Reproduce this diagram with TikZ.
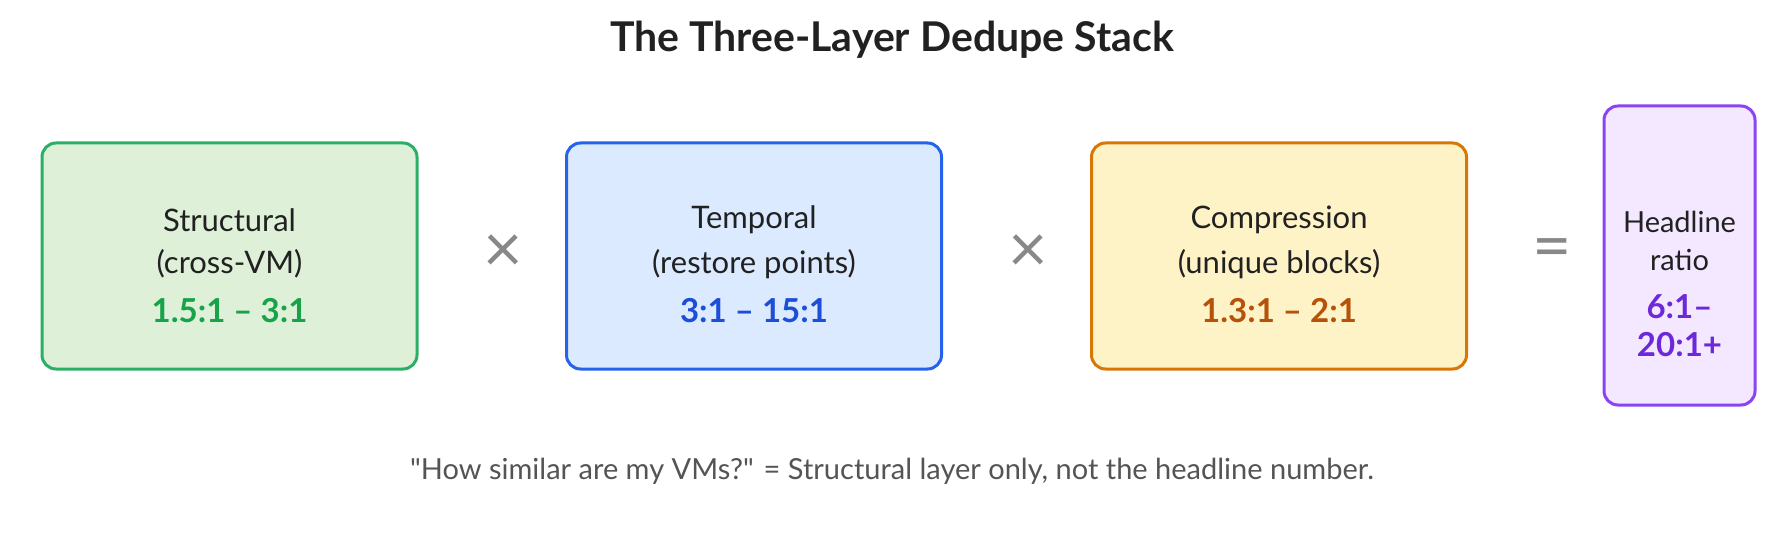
\documentclass[tikz,border=0pt]{standalone}
\usepackage{fontspec}
\setmainfont{Lato}
\usepackage{tikz}

\definecolor{grnline}{HTML}{2BAE66}
\definecolor{grnfill}{HTML}{DFF0D8}
\definecolor{grntext}{HTML}{16A34A}
\definecolor{bluline}{HTML}{2563EB}
\definecolor{blufill}{HTML}{DBEAFE}
\definecolor{blutext}{HTML}{1D4ED8}
\definecolor{orgline}{HTML}{D97706}
\definecolor{orgfill}{HTML}{FEF3C7}
\definecolor{orgtext}{HTML}{B45309}
\definecolor{purline}{HTML}{8B45F0}
\definecolor{purfill}{HTML}{F3E8FF}
\definecolor{purtext}{HTML}{6D28D9}
\definecolor{symgray}{HTML}{888888}

\begin{document}
\begin{tikzpicture}[x=1pt,y=-1pt,
		layerbox/.style={draw, line width=3pt, rounded corners=14pt, minimum width=375pt, minimum height=226pt, inner sep=0pt},
		plain/.style={font=\fontsize{31}{35}\selectfont, text=black!87},
		ratio/.style={font=\fontsize{33}{37}\selectfont\bfseries},
		opsym/.style={font=\fontsize{68}{68}\selectfont, text=symgray}]
		%\draw[blue] (0,0) grid (1785,540);
		\useasboundingbox (0,0) rectangle (1785,540);

		\node [font=\fontsize{41}{45}\selectfont\bfseries, text=black!87] (title) at (892,40) {The Three-Layer Dedupe Stack};

		% the three layers
		\node [layerbox, draw=grnline, fill=grnfill] (struct) at (229.5,256) {};
		\node [layerbox, draw=bluline, fill=blufill] (temp) at (754,256) {};
		\node [layerbox, draw=orgline, fill=orgfill] (compr) at (1279,256) {};
		\node [layerbox, draw=purline, fill=purfill, minimum width=151pt, minimum height=299pt] (head) at (1679.5,255.5) {};

		\node [plain] (structa) at (229.5,220) {Structural};
		\node [plain] (structb) at (229.5,264) {(cross-VM)};
		\node [ratio, text=grntext] (structc) at (229.5,311) {1.5:1 – 3:1};

		\node [plain] (tempa) at (754,220) {Temporal};
		\node [plain] (tempb) at (754,264) {(restore points)};
		\node [ratio, text=blutext] (tempc) at (754,311) {3:1 – 15:1};

		\node [plain] (compra) at (1279,220) {Compression};
		\node [plain] (comprb) at (1279,264) {(unique blocks)};
		\node [ratio, text=orgtext] (comprc) at (1279,311) {1.3:1 – 2:1};

		\node [plain, font=\fontsize{29}{33}\selectfont] (heada) at (1679.5,222) {Headline};
		\node [plain, font=\fontsize{29}{33}\selectfont] (headb) at (1679.5,260) {ratio};
		\node [ratio, text=purtext] (headc) at (1679.5,307) {6:1–};
		\node [ratio, text=purtext] (headd) at (1679.5,345) {20:1+};

		% operators
		\node [opsym] (times1) at (503,254) {×};
		\node [opsym] (times2) at (1028,254) {×};
		\node [opsym] (equals) at (1552,254) {=};

		\node [font=\fontsize{29}{33}\selectfont, text=black!67] (note) at (892,471) {\textquotedbl How similar are my VMs?\textquotedbl{} = Structural layer only, not the headline number.};
	\end{tikzpicture}
\end{document}
